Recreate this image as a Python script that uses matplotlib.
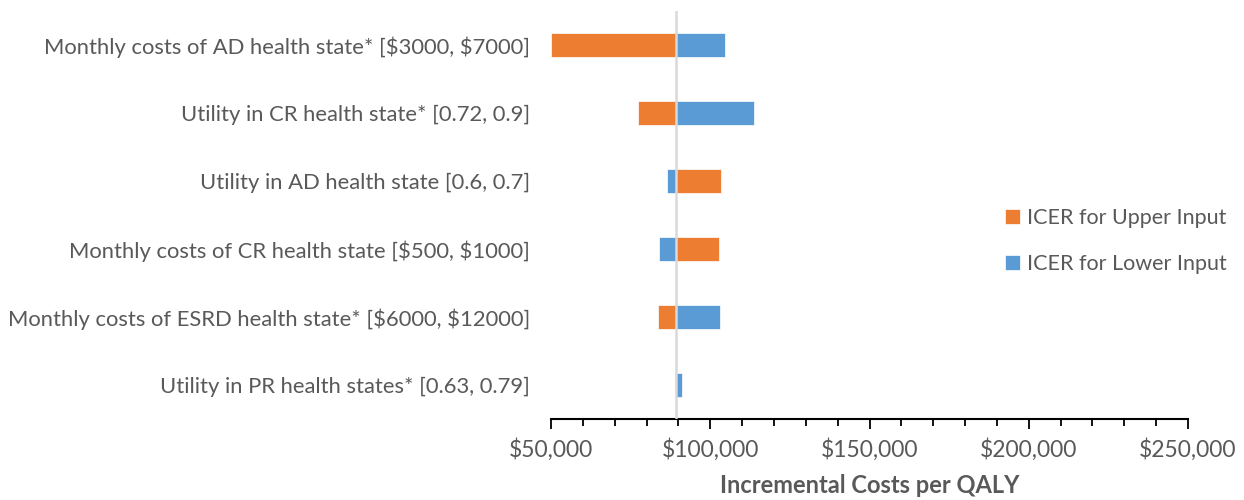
import matplotlib
matplotlib.use("Agg")
import matplotlib.pyplot as plt
from matplotlib.ticker import FuncFormatter, MultipleLocator

categories = [
    "Monthly costs of AD health state* [\\$3000, \\$7000]",
    "Utility in CR health state* [0.72, 0.9]",
    "Utility in AD health state [0.6, 0.7]",
    "Monthly costs of CR health state [\\$500, \\$1000]",
    "Monthly costs of ESRD health state* [\\$6000, \\$12000]",
    "Utility in PR health states* [0.63, 0.79]",
]
icer_upper = [50000, 77200, 103400, 102900, 83700, 88800]
icer_lower = [104500, 113600, 86400, 84000, 103200, 91000]
base_icer = 89200
series_names = ["ICER for Upper Input", "ICER for Lower Input"]

orange = "#ED7D31"
blue = "#5B9BD5"
grey = "#595959"

plt.rcParams['font.family'] = ['Lato', 'DejaVu Sans']

fig = plt.figure(figsize=(12.44, 5.0), dpi=100)
ax = fig.add_axes([551/1244, 81/500, (1188-551)/1244, (419-11)/500])

y = list(range(len(categories)))
h = 0.35
b1 = ax.barh(y, [u - base_icer for u in icer_upper], left=base_icer, height=h,
             color=orange, edgecolor="white", linewidth=0.5, label=series_names[0], zorder=2)
b2 = ax.barh(y, [l - base_icer for l in icer_lower], left=base_icer, height=h,
             color=blue, edgecolor="white", linewidth=0.5, label=series_names[1], zorder=2)
ax.axvline(base_icer, color="#D9D9D9", linewidth=1.8, zorder=3)

ax.set_xlim(50000, 250000)
ax.set_ylim(len(categories) - 0.5, -0.5)
ax.set_yticks(y)
ax.set_yticklabels(categories, fontsize=15.8, color=grey)
ax.tick_params(axis='y', length=0, pad=15)

ax.xaxis.set_major_locator(MultipleLocator(50000))
ax.xaxis.set_minor_locator(MultipleLocator(10000))
ax.xaxis.set_major_formatter(FuncFormatter(lambda v, p: f"\\${v:,.0f}"))
ax.tick_params(axis='x', which='major', length=7, width=1.3, labelsize=16.5, labelcolor=grey, pad=7, color='black')
ax.tick_params(axis='x', which='minor', length=5, width=1.3, color='black')
for s in ['top', 'right', 'left']:
    ax.spines[s].set_visible(False)
ax.spines['bottom'].set_linewidth(1.5)
ax.spines['bottom'].set_color('black')
ax.set_xlabel("Incremental Costs per QALY", fontsize=17, fontweight='bold', color=grey, labelpad=9)

fig.legend(handles=[b1, b2], labels=series_names, loc='center left',
           bbox_to_anchor=(986/1244, 1 - 241/500), frameon=False,
           fontsize=15.5, labelcolor=grey, handlelength=0.7, handleheight=0.7,
           handletextpad=0.3, labelspacing=1.2)

fig.savefig("out.png", dpi=100)
